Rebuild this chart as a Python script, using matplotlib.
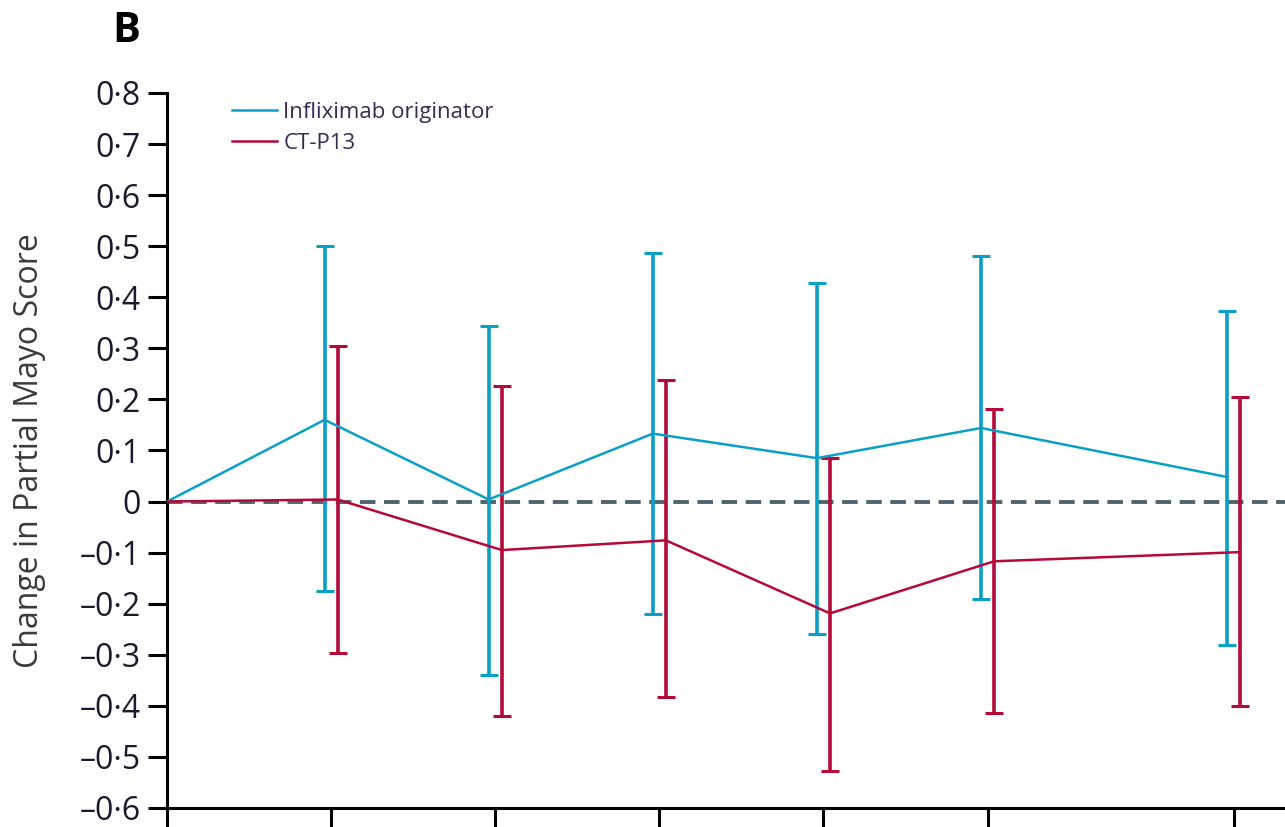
import numpy as np
import matplotlib.pyplot as plt

# weeks of follow-up and change in partial Mayo score (mean, upper, lower CI)
weeks = [0, 8, 16, 24, 32, 40, 52]

ifx_mean = [0.0, 0.160, 0.004, 0.133, 0.085, 0.144, 0.048]
ifx_upper = [0.0, 0.500, 0.343, 0.487, 0.428, 0.481, 0.373]
ifx_lower = [0.0, -0.176, -0.340, -0.221, -0.260, -0.191, -0.280]

ctp_mean = [0.0, 0.004, -0.095, -0.076, -0.219, -0.117, -0.099]
ctp_upper = [0.0, 0.305, 0.226, 0.237, 0.086, 0.181, 0.204]
ctp_lower = [0.0, -0.297, -0.419, -0.383, -0.528, -0.414, -0.400]

yticks = [-0.6, -0.5, -0.4, -0.3, -0.2, -0.1, 0, 0.1, 0.2, 0.3, 0.4, 0.5, 0.6, 0.7, 0.8]

BLUE = '#0aa0c6'
RED = '#b5093a'

plt.rcParams['font.family'] = ['Open Sans', 'DejaVu Sans']

fig = plt.figure(figsize=(12.85, 8.27), dpi=100)
ax = fig.add_axes([0.13, 0.023, 0.87, 0.8646])


def shifted(xs, dx):
    # small horizontal offset so the two series' bars don't overlap
    return [x + dx if x > 0 else x for x in xs]


def fmt_tick(v):
    if abs(v) < 1e-9:
        return '0'
    return ('%.1f' % v).replace('.', '\u00b7').replace('-', '\u2013')


ax.axhline(0, color='#50646e', lw=2.8, ls=(0, (4, 2.2)), zorder=1)

for mean, upper, lower, col, dx, lab in [
        (ifx_mean, ifx_upper, ifx_lower, BLUE, -0.32, 'Infliximab originator'),
        (ctp_mean, ctp_upper, ctp_lower, RED, 0.32, 'CT-P13')]:
    xs = shifted(weeks, dx)
    ax.plot(xs, mean, color=col, lw=1.8, label=lab, zorder=3)
    m = np.array(mean[1:])
    err = [m - np.array(lower[1:]), np.array(upper[1:]) - m]
    ax.errorbar(xs[1:], m, yerr=err, fmt='none', ecolor=col,
                elinewidth=2.6, capsize=6.5, capthick=2.2, zorder=2)

ax.set_xlim(0, 54.5)
ax.set_ylim(-0.6, 0.8)
ax.set_yticks(yticks)
ax.set_yticklabels([fmt_tick(v) for v in yticks], fontsize=23,
                   color='#1a1a2e')
ax.set_xticks(weeks)
ax.set_xticklabels([])

ax.spines['top'].set_visible(False)
ax.spines['right'].set_visible(False)
ax.spines['left'].set_linewidth(2.2)
ax.spines['bottom'].set_linewidth(2.2)
ax.tick_params(axis='y', length=14, width=2.2, pad=5)
ax.tick_params(axis='x', length=16, width=2.2)

ax.set_ylabel('Change in Partial Mayo Score', fontsize=23, color='#3a3a3a',
              labelpad=6)
ax.yaxis.set_label_coords(-0.108, 0.5)

leg = ax.legend(loc='upper left', bbox_to_anchor=(0.0405, 1.015), frameon=False,
                fontsize=16, handlelength=2.0, handletextpad=0.3,
                labelspacing=0.45)
for t in leg.get_texts():
    t.set_color('#3b2a55')

fig.text(0.098, 0.962, 'B', fontsize=30, fontweight='bold', ha='center',
         va='center')

fig.savefig('out.png', dpi=100)
